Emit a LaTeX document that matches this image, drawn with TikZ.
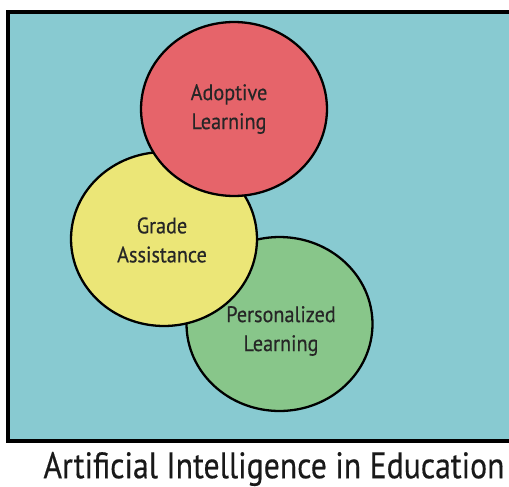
\documentclass[tikz,border=0pt]{standalone}
\usepackage{fontspec}
\setmainfont[FakeStretch=0.9, FakeBold=0.4]{PT Sans}
\newfontfamily\captionfont[FakeStretch=0.86, FakeBold=0.4]{PT Sans}
\usetikzlibrary{positioning,shapes.geometric}
\definecolor{panelteal}{HTML}{88CAD1}
\definecolor{adoptred}{HTML}{E6646A}
\definecolor{gradeyellow}{HTML}{EBE677}
\definecolor{persgreen}{HTML}{88C68A}

\begin{document}
\begin{tikzpicture}[
    x=0.02cm, y=-0.02cm,
    bubble/.style={ellipse, draw=black, line width=1.3pt, fill=#1,
                   minimum width=3.72cm, minimum height=3.48cm, inner sep=0pt},
    label text/.style={align=center, text=black!85,
                   font=\fontsize{12.8}{16.5}\selectfont},
    caption/.style={font=\captionfont\fontsize{21}{24}\selectfont, text=black!90},
]
\useasboundingbox (0,0) rectangle (509,486);
\clip (0,0) rectangle (509,486);

% Panel, running off the right edge
\fill[panelteal] (8,12) rectangle (509,441);
\draw[line width=1.8pt] (509,12) -- (8,12) -- (8,441) -- (509,441);

% Circles, back to front
\node[bubble=persgreen] (pers) at (279.5,324) {};
\node[bubble=gradeyellow] (grade) at (164,239) {};
\node[bubble=adoptred] (adopt) at (234,109) {};

% Labels
\node[label text] (adoptlbl) at (229,109) {Adoptive\\Learning};
\node[label text] (gradelbl) at (162,240) {Grade\\Assistance};
\node[label text] (perslbl) at (281,331) {Personalized\\Learning};

% Title
\node[caption] (title) at (274,469) {Artificial Intelligence in Education};

\end{tikzpicture}
\end{document}
